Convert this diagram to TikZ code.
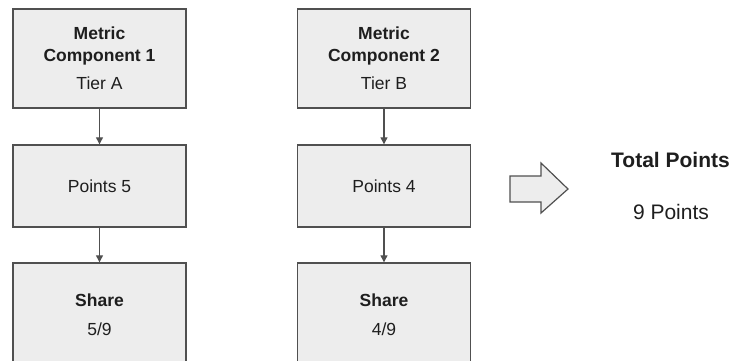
\documentclass[tikz,border=0pt]{standalone}
\usepackage{fontspec}
\setmainfont{Liberation Sans}
\usetikzlibrary{arrows.meta}
\definecolor{boxfill}{HTML}{EDEDED}
\definecolor{boxline}{HTML}{505050}
\definecolor{txt}{HTML}{1E1E1E}
\tikzset{
  box/.style={draw=boxline, fill=boxfill, line width=1.4pt, minimum width=173pt, inner sep=0pt,
    align=center, text=txt, font=\fontsize{17.5}{22}\selectfont},
  conn/.style={draw=boxline, line width=1.2pt, -{Triangle[length=7pt,width=7pt]}},
  plain/.style={text=txt, font=\fontsize{21}{25}\selectfont, inner sep=0pt}
}
\begin{document}
\begin{tikzpicture}[x=1pt,y=-1pt]
\path[use as bounding box] (0,0) rectangle (732,360);
\clip (0,0) rectangle (732,360);
\node[box, minimum height=99pt] (m1) at (99.5,58.5) {\textbf{Metric}\\\textbf{Component 1}\\[6pt]Tier A};
\node[box, minimum height=82pt] (p1) at (99.5,186) {Points 5};
\node[box, minimum height=103pt] (s1) at (99.5,314.5) {\textbf{Share}\\[7pt]5/9};
\node[box, minimum height=99pt] (m2) at (384,58.5) {\textbf{Metric}\\\textbf{Component 2}\\[6pt]Tier B};
\node[box, minimum height=82pt] (p2) at (384,186) {Points 4};
\node[box, minimum height=103pt] (s2) at (384,314.5) {\textbf{Share}\\[7pt]4/9};
\draw[conn] (m1) -- (p1);
\draw[conn] (p1) -- (s1);
\draw[conn] (m2) -- (p2);
\draw[conn] (p2) -- (s2);
\draw[draw=boxline, fill=boxfill, line width=1.2pt, line join=miter]
  (510,176) -- (541,176) -- (541,163) -- (568,189) -- (541,213) -- (541,202) -- (510,202) -- cycle;
\node[plain] (tp) at (670.5,160) {\textbf{Total Points}};
\node[plain] (np) at (671,212) {9 Points};
\end{tikzpicture}
\end{document}
